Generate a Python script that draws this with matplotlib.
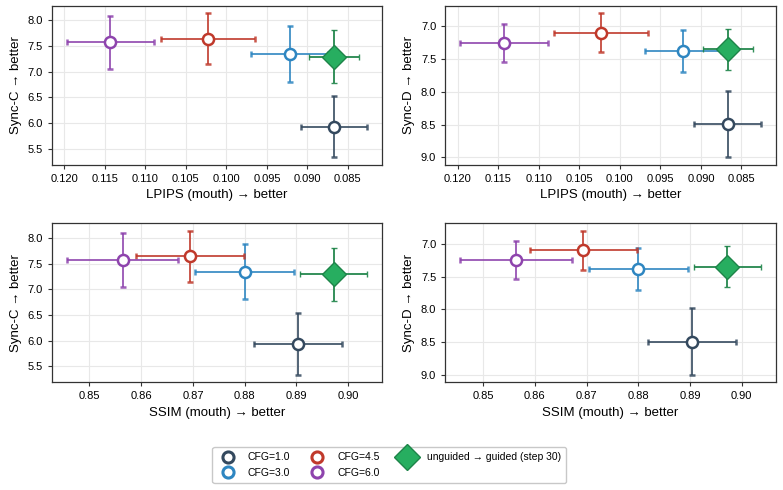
import numpy as np
import matplotlib
matplotlib.use('Agg')
import matplotlib.pyplot as plt
from matplotlib.lines import Line2D
from matplotlib.colors import to_rgba

plt.rcParams['font.family'] = ['Liberation Sans', 'DejaVu Sans']

# CFG sweep, mean +- std
cfg_labels = ['CFG=1.0', 'CFG=3.0', 'CFG=4.5', 'CFG=6.0']
cfg_colors = ['#34495e', '#2e86c1', '#c0392b', '#8e44ad']
lpips = [0.0867, 0.0922, 0.1023, 0.1143]
lpips_err = [0.0041, 0.0047, 0.0058, 0.0054]
ssim = [0.8903, 0.8800, 0.8694, 0.8564]
ssim_err = [0.0085, 0.0096, 0.0104, 0.0108]
sync_c = [5.93, 7.34, 7.64, 7.57]
sync_c_err = [0.60, 0.54, 0.50, 0.52]
sync_d = [8.49, 7.38, 7.10, 7.25]
sync_d_err = [0.51, 0.32, 0.30, 0.29]

# unguided -> guided (step 30)
g_lpips, g_lpips_err = 0.0867, 0.0031
g_ssim, g_ssim_err = 0.8972, 0.0065
g_sync_c, g_sync_c_err = 7.29, 0.52
g_sync_d, g_sync_d_err = 7.35, 0.31
g_color = '#27ae60'
g_edge = '#1e8449'

fig, axes = plt.subplots(2, 2, figsize=(7.83, 4.9), dpi=100)
fig.subplots_adjust(left=0.066, right=0.991, top=0.988, bottom=0.22, wspace=0.19, hspace=0.37)

panels = [
    (axes[0, 0], lpips, lpips_err, g_lpips, g_lpips_err, sync_c, sync_c_err, g_sync_c, g_sync_c_err, 'LPIPS (mouth) → better', 'Sync-C → better', True, False),
    (axes[0, 1], lpips, lpips_err, g_lpips, g_lpips_err, sync_d, sync_d_err, g_sync_d, g_sync_d_err, 'LPIPS (mouth) → better', 'Sync-D → better', True, True),
    (axes[1, 0], ssim, ssim_err, g_ssim, g_ssim_err, sync_c, sync_c_err, g_sync_c, g_sync_c_err, 'SSIM (mouth) → better', 'Sync-C → better', False, False),
    (axes[1, 1], ssim, ssim_err, g_ssim, g_ssim_err, sync_d, sync_d_err, g_sync_d, g_sync_d_err, 'SSIM (mouth) → better', 'Sync-D → better', False, True),
]

for ax, xs, xe, gx, gxe, ys, ye, gy, gye, xl, yl, inv_x, inv_y in panels:
    for i in range(len(cfg_labels)):
        ax.errorbar(xs[i], ys[i], xerr=xe[i], yerr=ye[i], fmt='o', color=cfg_colors[i],
                    ecolor=to_rgba(cfg_colors[i], 0.85), elinewidth=1.4, capsize=2.5, capthick=1.4,
                    markersize=8, markerfacecolor='white', markeredgewidth=1.8,
                    markeredgecolor=cfg_colors[i], zorder=3)
    ax.errorbar(gx, gy, xerr=gxe, yerr=gye, fmt='D', color=g_color, ecolor=to_rgba(g_edge, 0.9),
                elinewidth=1.4, capsize=2.5, capthick=1.4, markersize=12,
                markerfacecolor=g_color, markeredgecolor=g_edge, markeredgewidth=1.0, zorder=4)
    if inv_x:
        ax.invert_xaxis()
    if inv_y:
        ax.invert_yaxis()
    ax.grid(True, color='#e8e8e8', linewidth=0.8)
    ax.set_axisbelow(True)
    ax.set_xlabel(xl, fontsize=9.5)
    ax.set_ylabel(yl, fontsize=9.5)
    ax.tick_params(labelsize=8, length=3, color='#333333')
    for s in ax.spines.values():
        s.set_color('#333333')
        s.set_linewidth(0.9)

axes[0, 0].set_yticks([5.5, 6.0, 6.5, 7.0, 7.5, 8.0])
axes[1, 0].set_yticks([5.5, 6.0, 6.5, 7.0, 7.5, 8.0])
axes[0, 1].set_yticks([7.0, 7.5, 8.0, 8.5, 9.0])
axes[1, 1].set_yticks([7.0, 7.5, 8.0, 8.5, 9.0])

handles = []
for i in range(len(cfg_labels)):
    handles.append(Line2D([], [], linestyle='none', marker='o', markersize=8,
                          markerfacecolor='white', markeredgecolor=cfg_colors[i],
                          markeredgewidth=2.2, label=cfg_labels[i]))
handles.append(Line2D([], [], linestyle='none', marker='D', markersize=13,
                      markerfacecolor=g_color, markeredgecolor=g_edge,
                      markeredgewidth=1.0, label='unguided → guided (step 30)'))

fig.legend(handles=handles, loc='lower center', ncol=3, bbox_to_anchor=(0.497, 0.004),
           fontsize=7.5, frameon=True, edgecolor='#bbbbbb', columnspacing=1.6,
           handletextpad=0.9, borderpad=0.5, labelspacing=0.5)

fig.savefig('out.png', dpi=100)
